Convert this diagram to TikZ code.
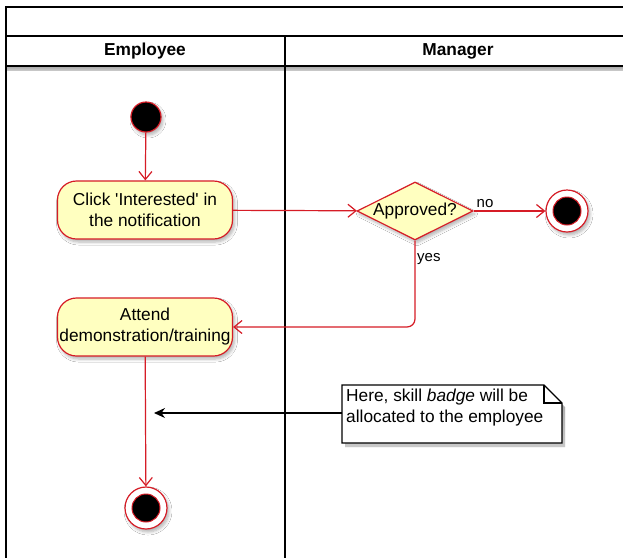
\documentclass[tikz,border=0pt]{standalone}
\usepackage{fontspec}
\setmainfont{Liberation Sans}
% plain family without TeX quote mapping, so ' stays straight
\newfontfamily\arial{Liberation Sans}
\usetikzlibrary{arrows.meta,shapes.geometric,shadows.blur}
\definecolor{flowred}{RGB}{214,28,38}
\definecolor{actfill}{RGB}{255,255,192}
\definecolor{shade}{RGB}{150,150,190}
\newcommand{\txt}{\arial\fontsize{17.3}{21}\selectfont}
\tikzset{
  x=1pt,y=-1pt,
  lane/.style={line width=1.3pt,draw=black},
  soft/.style={blur shadow={shadow xshift=2pt,shadow yshift=-3pt,shadow blur steps=6,shadow opacity=30,shadow blur radius=3pt}},
  action/.style={draw=flowred,fill=actfill,line width=1.2pt,rounded corners=19pt,
    minimum width=175pt,minimum height=58pt,align=center,font=\txt,
    inner sep=0pt,soft},
  decision/.style={diamond,draw=flowred,fill=actfill,line width=1.2pt,aspect=2,
    minimum width=115pt,minimum height=58pt,inner sep=0pt,font=\txt,soft},
  startdot/.style={circle,draw=flowred,fill=black,line width=1.2pt,minimum size=30pt,inner sep=0pt,soft},
  enddot/.style={circle,draw=flowred,fill=white,line width=1.2pt,minimum size=42pt,inner sep=0pt,soft,
    path picture={\fill[black] (path picture bounding box.center) circle (14pt);
      \draw[flowred,line width=1pt] (path picture bounding box.center) circle (14pt);}},
  flow/.style={draw=flowred,line width=1.2pt,-{Straight Barb[length=8pt,width=13pt,line width=1.2pt]}},
  guard/.style={fill=white,inner sep=1pt,font=\arial\fontsize{15}{17}\selectfont},
  note/.style={draw=black,fill=white,line width=1.2pt},
  notearrow/.style={draw=black,line width=1.2pt,-{Stealth[length=11pt,width=10pt]}},
  lanetitle/.style={font=\arial\fontsize{17.3}{21}\selectfont\bfseries}
}
\begin{document}
\begin{tikzpicture}
\useasboundingbox (0,0) rectangle (623,558);
\fill[white] (0,0) rectangle (623,558);

% swimlane frame
\fill[shade,opacity=0.25] (7,67) rectangle (623,71);
\draw[lane] (623,7) -- (6,7) -- (6,558);
\draw[lane] (6,36) -- (623,36);
\draw[lane] (6,66) -- (623,66);
\draw[lane] (285,36) -- (285,558);
\node[lanetitle] (laneE) at (145,51) {Employee};
\node[lanetitle] (laneM) at (458,51) {Manager};

% activity nodes
\node[startdot] (start) at (146,117) {};
\node[action] (click) at (145,210) {Click 'Interested' in\\the notification};
\node[decision] (approved) at (415,211) {Approved?};
\node[enddot] (endA) at (567,211) {};
\node[action] (attend) at (145,327) {Attend\\demonstration/training};
\node[enddot] (endB) at (146,508) {};

% note with folded corner
\fill[shade,opacity=0.3] (345,389) -- (545,389) -- (565,407) -- (565,447) -- (345,447) -- cycle;
\filldraw[note] (342,385) -- (544,385) -- (562,403) -- (562,443) -- (342,443) -- cycle;
\draw[black,line width=1.2pt] (544,385) -- (544,403) -- (562,403);
\node[anchor=north west,align=left,inner sep=0pt,font=\txt] (notetext) at (346,389)
  {Here, skill \emph{badge} will be\\allocated to the employee};
\coordinate (noteL) at (342,413);
\coordinate (notetip) at (154,413);

% flows
\draw[flow] (start) -- (click);
\draw[flow] (click) -- (approved);
\draw[flow] (approved) -- node[guard,above,pos=0.16,yshift=2pt] (lno) {no} (endA);
\draw[flow,rounded corners=8pt] (approved.south) -- (415,327) -- (attend.east);
\node[guard,anchor=west] (lyes) at (416,259) {yes};
\draw[flow] (attend) -- (endB);
\draw[notearrow] (noteL) -- (notetip);
\end{tikzpicture}
\end{document}
